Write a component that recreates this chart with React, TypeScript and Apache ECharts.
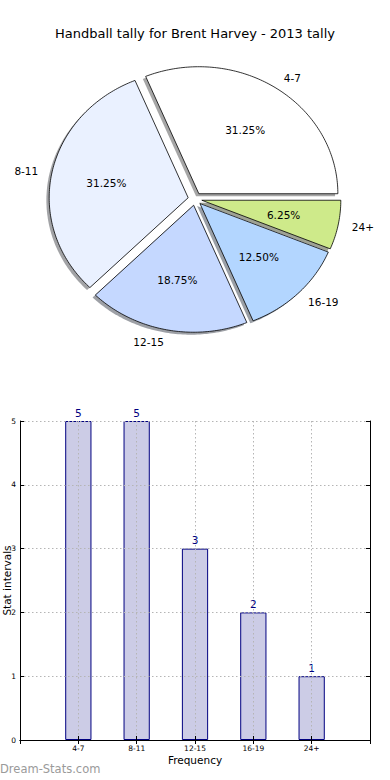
import React, { useEffect, useRef } from 'react';
import * as echarts from 'echarts';

const titleText = 'Handball tally for Brent Harvey - 2013 tally';
const categories = ['4-7', '8-11', '12-15', '16-19', '24+'];
const counts = [5, 5, 3, 2, 1];
const pieColors = ['#ffffff', '#eaf1ff', '#c5d8ff', '#b3d6ff', '#ceea8a'];
const yTicks = [0, 1, 2, 3, 4, 5];
const xAxisName = 'Frequency';
const yAxisName = 'Stat intervals';
const watermark = 'Dream-Stats.com';

const FONT = 'DejaVu Sans';
const PIE = { cx: 195, cy: 199, rx: 139, ry: 127, explode: 0.05, pct: 0.6, lab: 1.1, sdx: -2.8, sdy: 2.5 };

function shadowOf(hex: string) {
  const h = hex.replace('#', '');
  const r = Math.round(parseInt(h.slice(0, 2), 16) * 0.3);
  const g = Math.round(parseInt(h.slice(2, 4), 16) * 0.3);
  const b = Math.round(parseInt(h.slice(4, 6), 16) * 0.3);
  return `rgba(${r},${g},${b},0.5)`;
}

export default function App() {
  const ref = useRef<HTMLDivElement>(null);
  useEffect(() => {
    if (!ref.current) return;
    const chart = echarts.init(ref.current, undefined, { renderer: 'svg' });
    const total = counts.reduce((a, b) => a + b, 0);

    const renderPie = (params: any, api: any) => {
      const i = params.dataIndex;
      const v = api.value(0) as number;
      let before = 0;
      for (let k = 0; k < i; k++) before += counts[k];
      const a0 = (before / total) * Math.PI * 2;
      const a1 = ((before + v) / total) * Math.PI * 2;
      const mid = (a0 + a1) / 2;
      const ox = PIE.cx + PIE.explode * PIE.rx * Math.cos(mid);
      const oy = PIE.cy - PIE.explode * PIE.ry * Math.sin(mid);
      const pts: number[][] = [[ox, oy]];
      const steps = Math.max(4, Math.ceil(((a1 - a0) * 180) / Math.PI));
      for (let s = 0; s <= steps; s++) {
        const a = a0 + ((a1 - a0) * s) / steps;
        pts.push([ox + PIE.rx * Math.cos(a), oy - PIE.ry * Math.sin(a)]);
      }
      const shadowPts = pts.map((p) => [p[0] + PIE.sdx, p[1] + PIE.sdy]);
      const color = pieColors[i % pieColors.length];
      const cosm = Math.cos(mid);
      const sinm = Math.sin(mid);
      return {
        type: 'group',
        children: [
          {
            type: 'polygon',
            z2: 0,
            shape: { points: shadowPts },
            style: { fill: shadowOf(color), stroke: 'none' },
            silent: true,
          },
          {
            type: 'polygon',
            z2: 10,
            shape: { points: pts },
            style: { fill: color, stroke: '#000', lineWidth: 0.8, lineJoin: 'miter' },
          },
          {
            type: 'text',
            z2: 20,
            x: ox + PIE.pct * PIE.rx * cosm,
            y: oy - PIE.pct * PIE.ry * sinm,
            style: {
              text: ((v / total) * 100).toFixed(2) + '%',
              fill: '#000',
              fontSize: 10.5,
              fontFamily: FONT,
              align: 'center',
              verticalAlign: 'middle',
            },
          },
          {
            type: 'text',
            z2: 20,
            x: ox + PIE.lab * PIE.rx * cosm,
            y: oy - PIE.lab * PIE.ry * sinm,
            style: {
              text: categories[i],
              fill: '#000',
              fontSize: 10.5,
              fontFamily: FONT,
              align: cosm >= 0 ? 'left' : 'right',
              verticalAlign: 'middle',
            },
          },
        ],
      };
    };

    const paddedCats = ['', ...categories, ''];
    const barData: any[] = ['-', ...counts, '-'];
    const gridLine = { show: true, lineStyle: { color: '#b5b5b5', type: [1.5, 2.5], width: 1 } };

    chart.setOption({
      animation: false,
      backgroundColor: '#ffffff',
      title: {
        text: titleText,
        left: 'center',
        top: 22,
        textStyle: { fontSize: 13, fontWeight: 'normal', color: '#000', fontFamily: FONT },
      },
      graphic: [
        {
          type: 'text',
          left: 0,
          top: 763,
          style: { text: watermark, fill: '#9a9a9a', fontSize: 11.5, fontFamily: FONT },
        },
      ],
      grid: { left: 20, right: 20, top: 421, bottom: 40, show: false, containLabel: false, outerBoundsMode: 'none' },
      xAxis: [
        {
          type: 'category',
          data: paddedCats,
          boundaryGap: false,
          z: 5,
          name: xAxisName,
          nameLocation: 'middle',
          nameGap: 14,
          nameMoveOverlap: false,
          nameTextStyle: { fontSize: 10.5, color: '#000', fontFamily: FONT },
          axisLine: { show: true, lineStyle: { color: '#000', width: 1 } },
          axisTick: { show: true, inside: true, length: 4, alignWithLabel: true, lineStyle: { color: '#000' } },
          axisLabel: { fontSize: 7.5, color: '#000', fontFamily: FONT, margin: 4, interval: 0 },
          splitLine: gridLine,
        },
        {
          type: 'category',
          data: paddedCats,
          boundaryGap: false,
          position: 'top',
          z: 5,
          axisLine: { show: true, lineStyle: { color: '#000', width: 1 } },
          axisTick: { show: true, inside: true, length: 4, lineStyle: { color: '#000' } },
          axisLabel: { show: false },
          splitLine: { show: false },
        },
      ],
      yAxis: [
        {
          type: 'value',
          min: yTicks[0],
          max: yTicks[yTicks.length - 1],
          interval: 1,
          z: 5,
          name: yAxisName,
          nameLocation: 'middle',
          nameGap: 8,
          nameRotate: 90,
          nameMoveOverlap: false,
          nameTextStyle: { fontSize: 10.5, color: '#000', fontFamily: FONT },
          axisLine: { show: true, lineStyle: { color: '#000', width: 1 } },
          axisTick: { show: true, inside: true, length: 4, lineStyle: { color: '#000' } },
          axisLabel: { fontSize: 7.5, color: '#000', fontFamily: FONT, margin: 4 },
          splitLine: gridLine,
        },
        {
          type: 'value',
          min: yTicks[0],
          max: yTicks[yTicks.length - 1],
          interval: 1,
          position: 'right',
          z: 5,
          axisLine: { show: true, lineStyle: { color: '#000', width: 1 } },
          axisTick: { show: true, inside: true, length: 4, lineStyle: { color: '#000' } },
          axisLabel: { show: false },
          splitLine: { show: false },
        },
      ],
      series: [
        {
          type: 'custom',
          coordinateSystem: 'none',
          renderItem: renderPie,
          data: counts.map((c, i) => [c, i]),
          silent: true,
        },
        {
          type: 'bar',
          xAxisIndex: 0,
          yAxisIndex: 0,
          data: barData,
          barWidth: '45%',
          itemStyle: { color: '#cccce6', borderColor: '#000080', borderWidth: 1 },
          label: {
            show: true,
            position: 'top',
            distance: 3,
            color: '#000080',
            fontSize: 10.5,
            fontFamily: FONT,
          },
          z: 2,
        },
      ],
    });
    return () => chart.dispose();
  }, []);
  return <div ref={ref} style={{ position: 'absolute', left: 0, top: 0, width: 390, height: 780 }} />;
}
